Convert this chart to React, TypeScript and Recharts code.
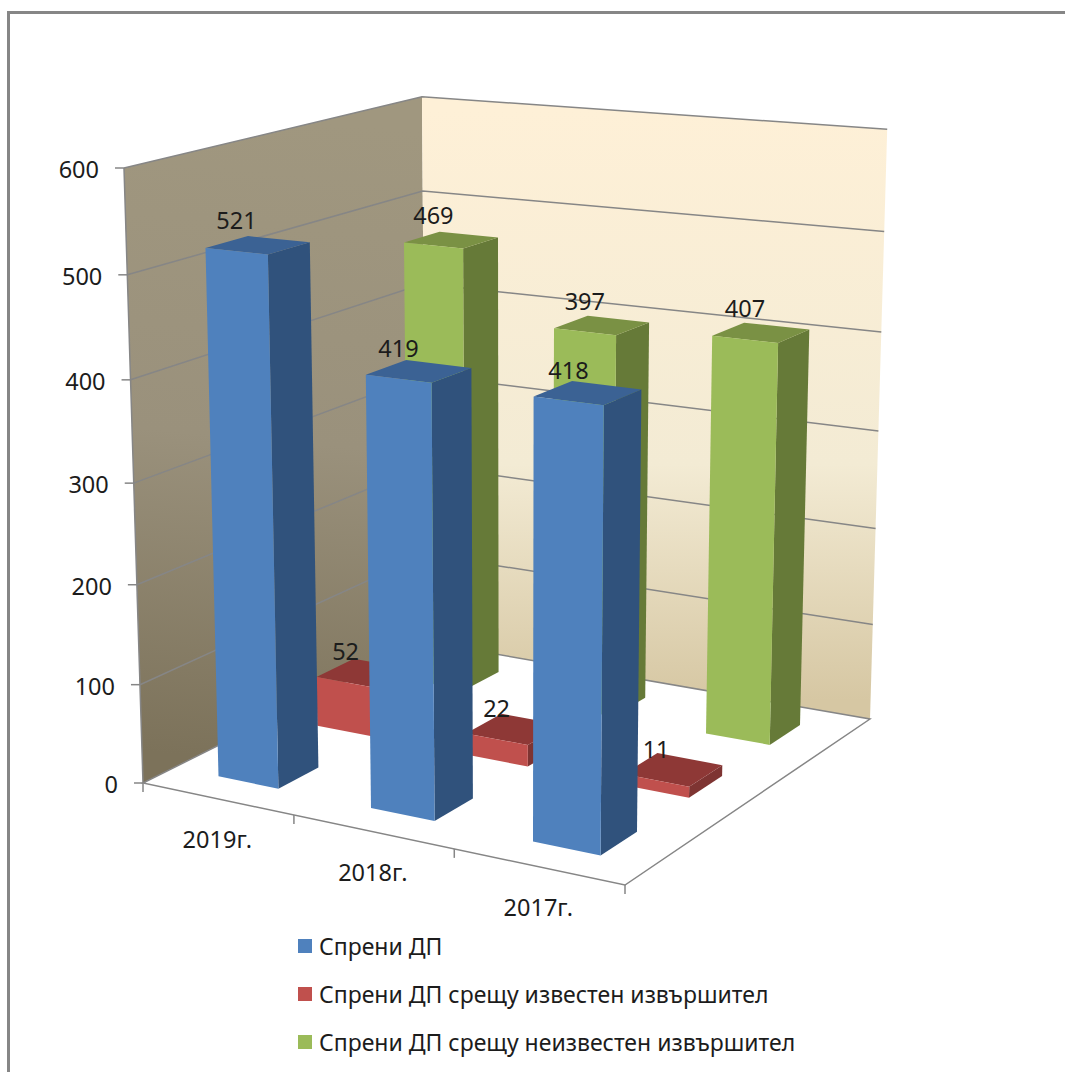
import { BarChart, Bar, XAxis, YAxis, CartesianGrid, Legend, LabelList } from 'recharts';

const CATEGORIES = ['2019г.', '2018г.', '2017г.'];
const STOPPED = [521, 419, 418];
const KNOWN = [52, 22, 11];
const UNKNOWN = [469, 397, 407];
const Y_TICKS = [0, 100, 200, 300, 400, 500, 600];

const data = CATEGORIES.map((name, i) => ({ name, stopped: STOPPED[i], known: KNOWN[i], unknown: UNKNOWN[i] }));

const FONT = '"Noto Sans", sans-serif';
const EDGE = '#868686';
const INK = '#1c1c1c';

// plot area is the front plane of the 3D box, everything else is projected from it
const PLOT = { left: 143, top: 168, width: 482, height: 615 };
const BOTTOM = PLOT.top + PLOT.height;
const BAR_SIZE = (PLOT.width / 3) * 0.4;

// floor corners on screen: front-left, front-right, back-right, back-left
const FLOOR = [[143, 783], [625, 885], [870, 719], [426, 642]];
const VANISH = [516, 12850];

const homography = () => {
  const [[x0, y0], [x1, y1], [x2, y2], [x3, y3]] = FLOOR;
  const dx1 = x1 - x2, dx2 = x3 - x2, sx = x0 - x1 + x2 - x3;
  const dy1 = y1 - y2, dy2 = y3 - y2, sy = y0 - y1 + y2 - y3;
  const den = dx1 * dy2 - dx2 * dy1;
  const g = (sx * dy2 - dx2 * sy) / den;
  const h = (dx1 * sy - sx * dy1) / den;
  return { a: x1 - x0 + g * x1, b: x3 - x0 + h * x3, c: x0, d: y1 - y0 + g * y1, e: y3 - y0 + h * y3, f: y0, g, h };
};
const H = homography();
const K = (PLOT.top - BOTTOM) / (VANISH[1] - PLOT.top);

// u across categories, v depth, w height (all 0..1)
const project = (u: number, v: number, w: number): [number, number] => {
  const X = H.a * u + H.b * v + H.c + w * K * VANISH[0];
  const Y = H.d * u + H.e * v + H.f + w * K * VANISH[1];
  const Z = H.g * u + H.h * v + 1 + w * K;
  return [X / Z, Y / Z];
};

const pts = (list: [number, number][]) => list.map((p) => `${p[0].toFixed(1)},${p[1].toFixed(1)}`).join(' ');
const heightOf = (y: number) => (BOTTOM - y) / PLOT.height;

// walls and floor, drawn once from the baseline of a first grid so they sit under the grid lines
const wallsLine = (props: any) => {
  if (heightOf(props.y1) > 0.001) return <g key={props.key} />;
  return (
    <g key={props.key}>
      <defs>
        <linearGradient id="leftWall" gradientUnits="userSpaceOnUse" x1="300" y1="120" x2="240" y2="760">
          <stop offset="0" stopColor="#A0977F" />
          <stop offset="0.5" stopColor="#9A917C" />
          <stop offset="1" stopColor="#7C725A" />
        </linearGradient>
        <linearGradient id="backWall" gradientUnits="userSpaceOnUse" x1="650" y1="110" x2="650" y2="700">
          <stop offset="0" stopColor="#FEF0D7" />
          <stop offset="0.6" stopColor="#F3EBD4" />
          <stop offset="1" stopColor="#D6C7A3" />
        </linearGradient>
      </defs>
      <polygon points={pts([project(0, 0, 0), project(0, 0, 1), project(0, 1, 1), project(0, 1, 0)])} fill="url(#leftWall)" />
      <polygon points={pts([project(0, 1, 0), project(0, 1, 1), project(1, 1, 1), project(1, 1, 0)])} fill="url(#backWall)" />
      <polyline points={pts([project(0, 1, 0), project(1, 1, 0), project(1, 0, 0), project(0, 0, 0), project(0, 1, 0)])} fill="#fff" stroke={EDGE} strokeWidth={1.5} />
      <polyline points={pts([project(0, 0, 0), project(0, 0, 1)])} fill="none" stroke={EDGE} strokeWidth={1.5} />
    </g>
  );
};

const gridLine = (props: any) => {
  const w = heightOf(props.y1);
  if (w < 0.001) return <g key={props.key} />;
  return (
    <polyline
      key={props.key}
      points={pts([project(0, 0, w), project(0, 1, w), project(1, 1, w)])}
      fill="none"
      stroke={EDGE}
      strokeWidth={1.5}
    />
  );
};

const YTick = (props: any) => {
  const [x, y] = project(0, 0, heightOf(props.y));
  return (
    <g>
      <line x1={x - 9} y1={y} x2={x} y2={y} stroke={EDGE} strokeWidth={1.5} />
      <text x={x - 25} y={y + 10} textAnchor="end" fontFamily={FONT} fontSize={23.5} fill={INK}>
        {props.payload.value}
      </text>
    </g>
  );
};

const XTick = (props: any) => {
  const band = 1 / CATEGORIES.length;
  const u = (props.x - PLOT.left) / PLOT.width;
  const [lx, ly] = project(u, 0, 0);
  const [ax, ay] = project(u - band / 2, 0, 0);
  const [bx, by] = project(u + band / 2, 0, 0);
  return (
    <g>
      <line x1={ax} y1={ay} x2={ax} y2={ay + 9} stroke={EDGE} strokeWidth={1.5} />
      {props.index === CATEGORIES.length - 1 && <line x1={bx} y1={by} x2={bx} y2={by + 9} stroke={EDGE} strokeWidth={1.5} />}
      <text x={lx} y={ly + 49} textAnchor="middle" fontFamily={FONT} fontSize={23.5} fill={INK}>
        {props.payload.value}
      </text>
    </g>
  );
};

const depthOf = (row: number) => {
  const frac = (BAR_SIZE * CATEGORIES.length) / PLOT.width;
  return [(row + (1 - frac) / 2) / 3, (row + (1 + frac) / 2) / 3];
};

const bar3d = (row: number, front: string, side: string, top: string) => (props: any) => {
  const u0 = (props.x - PLOT.left) / PLOT.width;
  const u1 = (props.x + props.width - PLOT.left) / PLOT.width;
  const w = heightOf(props.y);
  const [v0, v1] = depthOf(row);
  return (
    <g>
      <polygon points={pts([project(u1, v0, 0), project(u1, v0, w), project(u1, v1, w), project(u1, v1, 0)])} fill={side} />
      <polygon points={pts([project(u0, v0, w), project(u1, v0, w), project(u1, v1, w), project(u0, v1, w)])} fill={top} />
      <polygon points={pts([project(u0, v0, 0), project(u0, v0, w), project(u1, v0, w), project(u1, v0, 0)])} fill={front} />
    </g>
  );
};

const barLabel = (row: number) => (props: any) => {
  const u = (props.x + props.width / 2 - PLOT.left) / PLOT.width;
  const [x, y] = project(u, depthOf(row)[0], heightOf(props.y));
  return (
    <text x={x} y={y - 22} textAnchor="middle" fontFamily={FONT} fontSize={23.5} fill={INK}>
      {props.value}
    </text>
  );
};

const LegendList = ({ payload }: any) => (
  <div style={{ fontFamily: FONT, fontSize: 23, color: INK }}>
    {(payload || []).map((item: any) => (
      <div key={item.value} style={{ display: 'flex', alignItems: 'center', height: 48, whiteSpace: 'nowrap' }}>
        <span style={{ width: 14, height: 14, background: item.color, marginRight: 7 }} />
        {item.value}
      </div>
    ))}
  </div>
);

export default function App() {
  return (
    <div style={{ position: 'absolute', left: 0, top: 0, width: 1065, height: 1072, overflow: 'hidden', background: '#fff' }}>
      <div style={{ position: 'absolute', left: 7, top: 11, width: 1200, height: 1200, border: `3px solid ${EDGE}`, boxSizing: 'border-box' }} />
      <BarChart
        width={1065}
        height={1072}
        data={data}
        barSize={BAR_SIZE}
        barGap={-BAR_SIZE}
        margin={{ left: PLOT.left - 60, top: PLOT.top, right: 1065 - PLOT.left - PLOT.width, bottom: 1072 - BOTTOM - 40 }}
        style={{ position: 'absolute', left: 0, top: 0 }}
      >
        <CartesianGrid vertical={false} horizontal={wallsLine} />
        <CartesianGrid vertical={false} horizontal={gridLine} />
        <XAxis dataKey="name" height={40} axisLine={false} tickLine={false} tick={XTick} interval={0} />
        <YAxis width={60} domain={[0, 600]} ticks={Y_TICKS} axisLine={false} tickLine={false} tick={YTick} interval={0} />
        <Legend
          layout="horizontal"
          verticalAlign="middle"
          align="center"
          content={LegendList}
          wrapperStyle={{ left: 298, top: 922, width: 600 }}
        />
        <Bar dataKey="unknown" name="Спрени ДП срещу неизвестен извършител" fill="#9BBB59" isAnimationActive={false} shape={bar3d(2, '#9BBB59', '#667A38', '#7A9144')}>
          <LabelList content={barLabel(2)} />
        </Bar>
        <Bar dataKey="known" name="Спрени ДП срещу известен извършител" fill="#C0504D" isAnimationActive={false} shape={bar3d(1, '#C0504D', '#7E3432', '#8E3836')}>
          <LabelList content={barLabel(1)} />
        </Bar>
        <Bar dataKey="stopped" name="Спрени ДП" fill="#4F81BD" isAnimationActive={false} shape={bar3d(0, '#4F81BD', '#30527C', '#3B6294')}>
          <LabelList content={barLabel(0)} />
        </Bar>
      </BarChart>
    </div>
  );
}
